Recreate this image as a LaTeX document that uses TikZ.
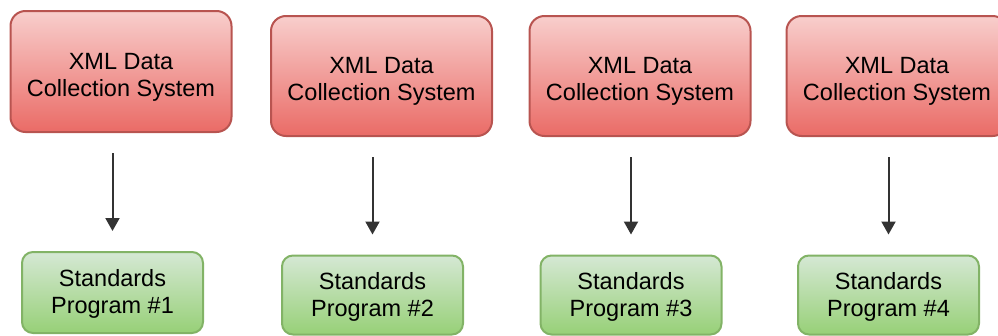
\documentclass[tikz,border=0pt]{standalone}
\usepackage{fontspec}
\setmainfont{Liberation Sans}
\usetikzlibrary{arrows.meta}
\definecolor{redtop}{HTML}{F8CECC}
\definecolor{redbot}{HTML}{EA6B66}
\definecolor{redline}{HTML}{B85450}
\definecolor{greentop}{HTML}{D5E8D4}
\definecolor{greenbot}{HTML}{97D077}
\definecolor{greenline}{HTML}{82B366}
\definecolor{arrcol}{HTML}{333333}
\newcommand{\lowtext}[2]{\raisebox{-#1}[\height][\depth]{\begin{tabular}{@{}c@{}}#2\end{tabular}}}
\tikzset{
  sysbox/.style={rectangle, rounded corners=15pt, draw=redline, line width=2pt,
    top color=redtop, bottom color=redbot, minimum width=221pt, minimum height=120pt,
    inner sep=0pt, align=center, font=\fontsize{23.5}{27}\selectfont},
  progbox/.style={rectangle, rounded corners=11pt, draw=greenline, line width=2pt,
    top color=greentop, bottom color=greenbot, minimum width=181pt, minimum height=79pt,
    inner sep=0pt, align=center, font=\fontsize{23.5}{27}\selectfont},
  flow/.style={draw=arrcol, line width=2pt, -{Triangle[width=14pt,length=13pt]},
    shorten <=20pt, shorten >=20pt}
}
\begin{document}
\begin{tikzpicture}[x=1pt,y=-1pt]
\useasboundingbox (0,0) rectangle (998,335);
\node[sysbox, minimum height=121pt] (r1) at (121,71.5) {\lowtext{6pt}{XML Data\\Collection System}};
\node[sysbox] (r2) at (381.5,76) {\lowtext{6pt}{XML Data\\Collection System}};
\node[sysbox] (r3) at (640,76) {\lowtext{6pt}{XML Data\\Collection System}};
\node[sysbox] (r4) at (897,76) {\lowtext{6pt}{XML Data\\Collection System}};
\node[progbox, minimum height=81pt] (g1) at (112.5,292.5) {\lowtext{2.5pt}{Standards\\Program \#1}};
\node[progbox] (g2) at (372.5,295) {\lowtext{2.5pt}{Standards\\Program \#2}};
\node[progbox] (g3) at (631,295) {\lowtext{2.5pt}{Standards\\Program \#3}};
\node[progbox] (g4) at (888.5,295) {\lowtext{2.5pt}{Standards\\Program \#4}};
\draw[flow] (g1.north |- r1.south) -- (g1.north);
\draw[flow] (g2.north |- r2.south) -- (g2.north);
\draw[flow] (g3.north |- r3.south) -- (g3.north);
\draw[flow] (g4.north |- r4.south) -- (g4.north);
\end{tikzpicture}
\end{document}
